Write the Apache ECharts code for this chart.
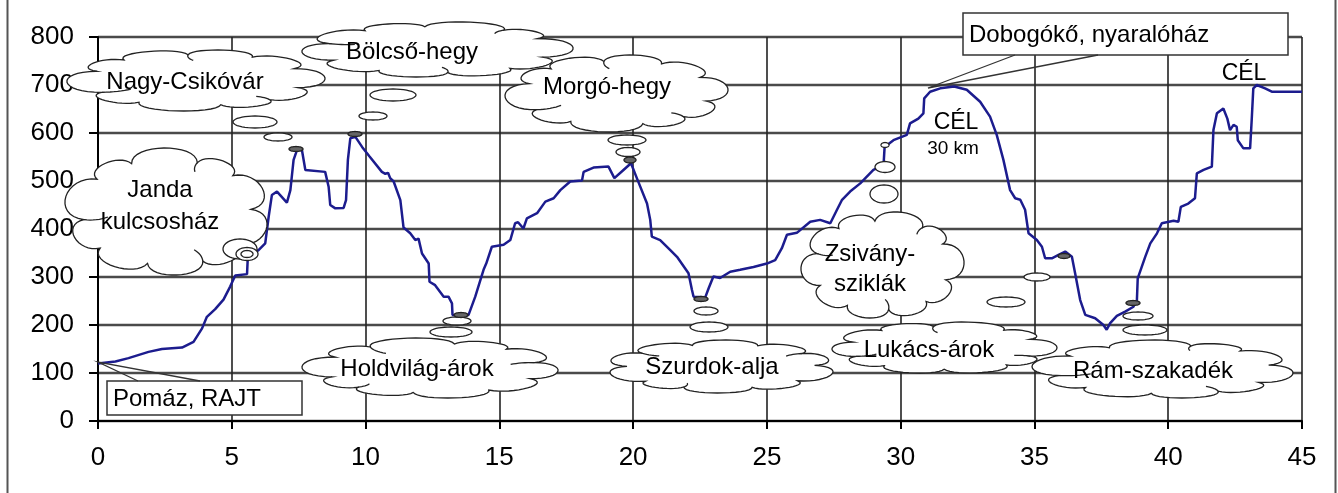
<!DOCTYPE html>
<html><head><meta charset="utf-8">
<script src="https://cdn.jsdelivr.net/npm/echarts@6/dist/echarts.min.js"></script>
<style>html,body{margin:0;padding:0;background:#fff}#c{width:1338px;height:493px}</style>
</head><body><div id="c"></div>
<script>
// distance (km) and elevation (m) read from the profile
const distKm = [0.0,0.65,1.14,1.89,2.39,3.14,3.57,3.89,4.07,4.38,4.69,4.94,5.13,5.57,5.6,6.0,6.25,6.38,6.5,6.69,7.06,7.19,7.31,7.44,7.62,7.75,8.49,8.62,8.68,8.87,9.18,9.27,9.34,9.43,9.62,9.87,10.15,10.61,10.74,10.84,10.92,11.05,11.3,11.42,11.67,11.86,11.98,12.11,12.36,12.39,12.6,12.92,13.1,13.23,13.25,13.54,13.85,14.1,14.41,14.51,14.72,15.16,15.41,15.59,15.7,15.9,16.03,16.41,16.72,17.03,17.28,17.65,18.09,18.15,18.52,19.08,19.3,19.64,19.92,20.14,20.52,20.64,20.7,21.01,21.39,21.64,22.07,22.2,22.26,22.7,22.82,23.0,23.25,23.63,24.0,24.5,25.0,25.31,25.56,25.75,26.12,26.62,26.99,27.37,27.62,27.8,28.11,28.49,28.98,29.36,29.4,29.73,30.23,30.35,30.66,30.85,30.88,31.1,31.48,32.0,32.47,32.97,33.34,33.59,33.84,34.09,34.28,34.47,34.65,34.78,35.09,35.28,35.4,35.65,35.9,36.15,36.4,36.52,36.71,36.9,37.27,37.58,37.7,37.83,38.08,38.39,38.7,38.83,38.86,39.01,39.14,39.33,39.58,39.76,40.2,40.38,40.47,40.75,41.0,41.07,41.32,41.63,41.69,41.82,42.06,42.21,42.31,42.44,42.56,42.6,42.81,43.06,43.12,43.18,43.31,43.62,43.87,45.0];
const elevM = [120,124,131,144,150,153,165,193,217,233,253,280,303,306,342,356,370,426,471,478,455,481,544,565,565,523,519,488,450,443,444,460,544,589,592,571,551,519,515,517,506,499,460,403,391,377,380,349,328,290,283,259,259,245,221,219,221,259,315,328,363,367,377,412,414,401,422,433,457,464,481,499,501,519,528,530,506,523,537,506,453,419,384,377,356,342,308,273,259,258,276,301,298,311,315,321,328,335,360,388,392,415,419,412,440,460,478,495,523,533,571,585,596,620,630,641,672,686,693,697,690,665,634,596,544,481,464,461,440,391,377,363,339,339,346,353,342,308,252,221,214,200,190,204,219,228,238,252,297,321,342,370,391,412,417,415,446,453,464,516,523,530,606,641,651,630,606,617,613,585,568,568,627,693,700,693,686,686];
const xTicks = [0,5,10,15,20,25,30,35,40,45];
const yTicks = [0,100,200,300,400,500,600,700,800];
const cloudLabels = [
  ['Nagy-Csikóvár'], ['Bölcső-hegy'], ['Janda','kulcsosház'], ['Holdvilág-árok'],
  ['Morgó-hegy'], ['Szurdok-alja'], ['Zsivány-','sziklák'], ['Lukács-árok'], ['Rám-szakadék']
];
const boxLabels = ['Pomáz, RAJT', 'Dobogókő, nyaralóház'];
const finishLabels = ['CÉL', '30 km', 'CÉL'];

// ---- annotation layout (pixels) ----
const FONT = '"Liberation Sans", Arial, sans-serif';
const cloudGeom = [
  {x0:67,y0:50,x1:325,y1:111,tx:185,ty:[82],ph:0.25},
  {x0:302,y0:22,x1:573,y1:77,tx:412,ty:[52],ph:0.9},
  {x0:65,y0:148,x1:267,y1:275,tx:160,ty:[190,222],ph:0.6},
  {x0:302,y0:338,x1:558,y1:398,tx:417,ty:[369],ph:1.7},
  {x0:505,y0:55,x1:728,y1:132,tx:607,ty:[87],ph:0.2},
  {x0:610,y0:340,x1:833,y1:393,tx:712,ty:[367],ph:1.3},
  {x0:801,y0:212,x1:964,y1:318,tx:870,ty:[254,284],ph:0.9},
  {x0:832,y0:322,x1:1057,y1:373,tx:929,ty:[350],ph:2.2},
  {x0:1032,y0:340,x1:1293,y1:398,tx:1153,ty:[371],ph:0.5}
];
const bubbles = [
  [255,122,22,6,0],[278,137,14,4,0],[296,149,7,2.5,1],
  [393,95,23,6,0],[373,116,14,4,0],[355,134,7,2.5,1],
  [240,249,17,10,0],[247,254,11,6.5,0],[247,254,6,3.5,0],
  [451,332,21,5,0],[457,321,14,4,0],[461,315,7,2.5,1],
  [627,140,19,5,0],[628,152,12,4.5,0],[630,160,6,3,1],
  [709,327,19,5,0],[706,311,12,4,0],[701,299,7,2.5,1],
  [884,194,14,9,0],[885,167,10,5.5,0],[885,145,4,2.5,0],
  [1006,302,19,5,0],[1037,277,13,4,0],[1064,256,6,2.5,1],
  [1145,330,22,5,0],[1138,316,15,4,0],[1133,303,7,2.5,1]
];
const W = [1.0,0.9,1.15,1.0,1.2,0.95,1.1,0.9,1.15,1.05];

function cloudShape(g){
  const n=W.length, tot=W.reduce((a,b)=>a+b,0), p=2.4;
  const base=(a)=>{const c=Math.cos(a), s=Math.sin(a);
    return [Math.sign(c)*Math.pow(Math.abs(c),2/p), Math.sign(s)*Math.pow(Math.abs(s),2/p)];};
  let ang=[g.ph]; for(let i=0;i<n;i++) ang.push(ang[i]+2*Math.PI*W[i]/tot);
  const upts=[], ucurls=[];
  for(let i=0;i<n;i++){
    const A=base(ang[i]), B=base(ang[i+1]);
    const L=Math.hypot(B[0]-A[0],B[1]-A[1]);
    const m=[(B[1]-A[1])/L, -(B[0]-A[0])/L];
    const mid=[(A[0]+B[0])/2,(A[1]+B[1])/2];
    const sgn=(m[0]*mid[0]+m[1]*mid[1])>0?1:-1;
    m[0]*=sgn; m[1]*=sgn;
    const k=0.5*L;
    const C1=[A[0]+m[0]*k,A[1]+m[1]*k], C2=[B[0]+m[0]*k,B[1]+m[1]*k];
    for(let s=0;s<16;s++){
      const t=s/16, u=1-t;
      upts.push([u*u*u*A[0]+3*u*u*t*C1[0]+3*u*t*t*C2[0]+t*t*t*B[0],
                 u*u*u*A[1]+3*u*u*t*C1[1]+3*u*t*t*C2[1]+t*t*t*B[1]]);
    }
    if(i%3===1){
      const R=L/2, uu=[(A[0]-mid[0])/R,(A[1]-mid[1])/R];
      const cp=[];
      for(let s=0;s<=8;s++){
        const f=-0.75*s/8;
        cp.push([mid[0]+R*(Math.cos(f)*uu[0]+Math.sin(f)*m[0]), mid[1]+R*(Math.cos(f)*uu[1]+Math.sin(f)*m[1])]);
      }
      ucurls.push(cp);
    }
  }
  let mnx=Infinity,mxx=-Infinity,mny=Infinity,mxy=-Infinity;
  upts.forEach(q=>{mnx=Math.min(mnx,q[0]);mxx=Math.max(mxx,q[0]);mny=Math.min(mny,q[1]);mxy=Math.max(mxy,q[1]);});
  const S=(q)=>[g.x0+(q[0]-mnx)/(mxx-mnx)*(g.x1-g.x0), g.y0+(q[1]-mny)/(mxy-mny)*(g.y1-g.y0)];
  return {pts:upts.map(S), curls:ucurls.map(c=>c.map(S))};
}
function ellipsePts(cx,cy,rx,ry){
  const q=[]; for(let i=0;i<40;i++){const a=2*Math.PI*i/40; q.push([cx+rx*Math.cos(a), cy+ry*Math.sin(a)]);} return q;
}
function txt(t,x,y,size,align){
  return {type:'text', z:120, style:{text:t,x:x,y:y,font:size+'px '+FONT,fill:'#000',
    textAlign:align||'center',align:align||'center',textVerticalAlign:'middle',verticalAlign:'middle'}};
}
const els=[];
els.push({type:'line',z:130,shape:{x1:7.5,y1:0,x2:7.5,y2:493},style:{stroke:'#555',lineWidth:2}});
els.push({type:'line',z:130,shape:{x1:1335.5,y1:0,x2:1335.5,y2:493},style:{stroke:'#555',lineWidth:2}});
cloudGeom.forEach((g,i)=>{
  const c=cloudShape(g);
  els.push({type:'polygon',z:100,shape:{points:c.pts},style:{fill:'#fff',stroke:'#222',lineWidth:1.3}});
  c.curls.forEach(cp=>els.push({type:'polyline',z:101,shape:{points:cp},style:{fill:null,stroke:'#222',lineWidth:1.3}}));
  cloudLabels[i].forEach((t,j)=>els.push(txt(t,g.tx,g.ty[j],24)));
});
bubbles.forEach(b=>{
  els.push({type:'polygon',z:102,shape:{points:ellipsePts(b[0],b[1],b[2],b[3])},
    style:{fill:b[4]?'#666':'#fff',stroke:'#222',lineWidth:1.3}});
});
els.push({type:'rect',z:100,shape:{x:107,y:381,width:195,height:34},style:{fill:'#fff',stroke:'#333',lineWidth:1.5}});
els.push({type:'polyline',z:101,shape:{points:[[138,381],[98,362],[200,381]]},style:{fill:null,stroke:'#333',lineWidth:1.3}});
els.push(txt(boxLabels[0],113,399,24,'left'));
els.push({type:'rect',z:100,shape:{x:963,y:13,width:325,height:42},style:{fill:'#fff',stroke:'#333',lineWidth:1.5}});
els.push({type:'polyline',z:101,shape:{points:[[1015,55],[928,88],[1098,55]]},style:{fill:null,stroke:'#333',lineWidth:1.3}});
els.push(txt(boxLabels[1],969,35,24,'left'));
els.push(txt(finishLabels[0],956,123,23));
els.push(txt(finishLabels[1],953,149,19));
els.push(txt(finishLabels[2],1244,74,23));

const chart = echarts.init(document.getElementById('c'), null, {renderer:'canvas'});
chart.setOption({
  animation:false,
  backgroundColor:'#fff',
  grid:{left:98,right:36,top:37,bottom:72,show:false},
  xAxis:{type:'value',min:xTicks[0],max:xTicks[xTicks.length-1],interval:5,
    axisLine:{show:true,lineStyle:{color:'#000',width:2}},
    axisTick:{show:true,length:8,lineStyle:{color:'#000',width:2}},
    axisLabel:{fontSize:26,fontFamily:FONT,color:'#000',margin:24},
    splitLine:{show:true,lineStyle:{color:'#222',width:1.6}}},
  yAxis:{type:'value',min:yTicks[0],max:yTicks[yTicks.length-1],interval:100,
    axisLine:{show:true,lineStyle:{color:'#000',width:2}},
    axisTick:{show:true,length:9,lineStyle:{color:'#000',width:2}},
    axisLabel:{fontSize:26,fontFamily:FONT,color:'#000',margin:24},
    splitLine:{show:true,lineStyle:{color:'#4a4a4a',width:2.4}}},
  series:[{type:'line',data:distKm.map((d,i)=>[d,elevM[i]]),showSymbol:false,smooth:false,
    lineStyle:{color:'#1c1c8e',width:2.5},z:3}],
  graphic:{elements:els}
});
</script></body></html>
